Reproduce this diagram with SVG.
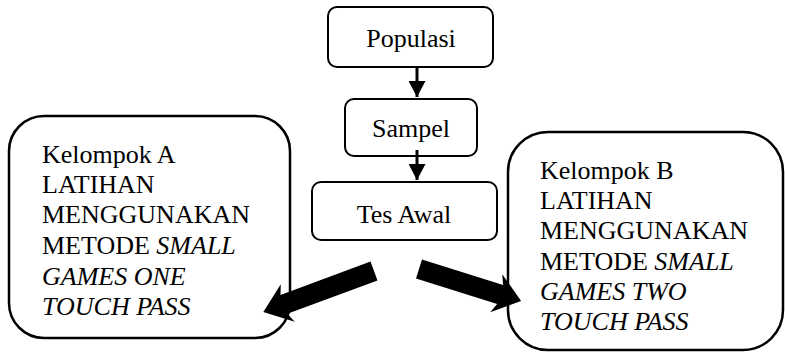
<svg xmlns="http://www.w3.org/2000/svg" width="785" height="353" viewBox="0 0 785 353">
<style>
.box{fill:#fff;stroke:#000;stroke-width:2}
.big{fill:#fff;stroke:#000;stroke-width:2.5}
.t{font-family:'Liberation Serif','DejaVu Serif',serif;font-size:26px;fill:#000}
.c{text-anchor:middle}
.i{font-style:italic}
</style>
<defs>
<marker id="ah" viewBox="0 0 16 17" refX="16" refY="8.5" markerWidth="16" markerHeight="17" markerUnits="userSpaceOnUse" orient="auto">
<path d="M0,0 L16,8.5 L0,17 Z" fill="#000"/>
</marker>
</defs>
<g font-family="Liberation Serif, DejaVu Serif, serif" font-size="26">
<g id="kelompokA">
<rect class="big" x="9" y="116" width="281" height="222" rx="35" ry="35"/>
<text class="t" x="42" y="163">Kelompok A</text>
<text class="t" x="42" y="193">LATIHAN</text>
<text class="t" x="42" y="223">MENGGUNAKAN</text>
<text class="t" x="42" y="254">METODE <tspan class="i">SMALL</tspan></text>
<text class="t i" x="42" y="285">GAMES ONE</text>
<text class="t i" x="42" y="315">TOUCH PASS</text>
</g>
<g id="kelompokB">
<rect class="big" x="508" y="132" width="275" height="218" rx="40" ry="40"/>
<text class="t" x="540" y="179">Kelompok B</text>
<text class="t" x="540" y="209">LATIHAN</text>
<text class="t" x="540" y="239">MENGGUNAKAN</text>
<text class="t" x="540" y="270">METODE <tspan class="i">SMALL</tspan></text>
<text class="t i" x="540" y="300">GAMES TWO</text>
<text class="t i" x="540" y="330">TOUCH PASS</text>
</g>
<g id="populasi">
<rect class="box" x="328" y="7" width="165" height="60" rx="9" ry="9"/>
<text class="t c" x="411" y="47">Populasi</text>
</g>
<g id="sampel">
<rect class="box" x="345" y="99" width="132" height="57" rx="9" ry="9"/>
<text class="t c" x="411" y="137">Sampel</text>
</g>
<g id="tesawal">
<rect class="box" x="312" y="182" width="185" height="58" rx="9" ry="9"/>
<text class="t c" x="404" y="223">Tes Awal</text>
</g>
</g>
<g id="connectors">
<line x1="417" y1="67" x2="417" y2="97" stroke="#000" stroke-width="3" marker-end="url(#ah)"/>
<line x1="417" y1="150" x2="417" y2="180" stroke="#000" stroke-width="3" marker-end="url(#ah)"/>
<polygon transform="translate(374,271) rotate(159.7)" points="0,-10 96,-10 92,-20 118,0 92,20 96,10 0,10" fill="#000"/>
<polygon transform="translate(419,269) rotate(17.4)" points="0,-10 85,-10 81,-20 107,0 81,20 85,10 0,10" fill="#000"/>
</g>
</svg>
